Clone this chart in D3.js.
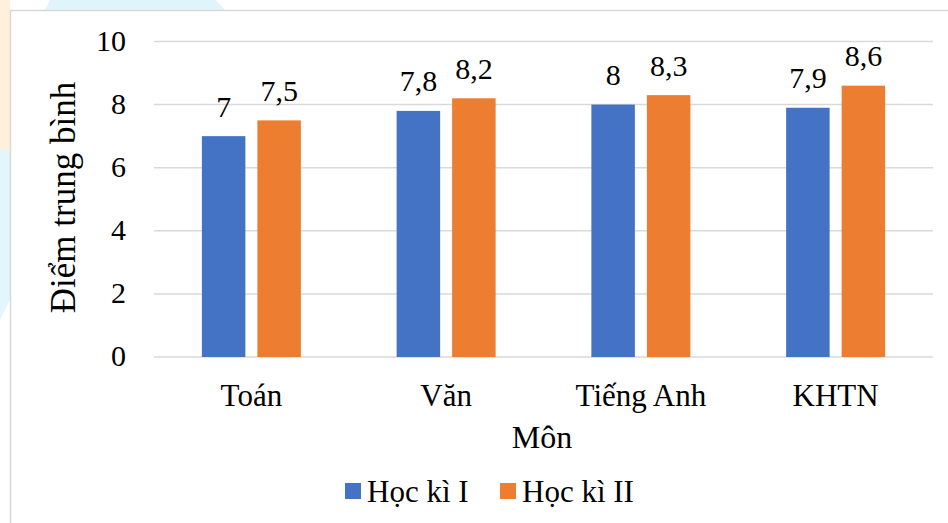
<!DOCTYPE html>
<html>
<head>
<meta charset="utf-8">
<script src="https://cdn.jsdelivr.net/npm/d3@7"></script>
</head>
<body style="margin:0">
<script>
// data
var subjects = ["Toán", "Văn", "Tiếng Anh", "KHTN"];
var seriesNames = ["Học kì I", "Học kì II"];
var hk1 = [7, 7.8, 8, 7.9];
var hk2 = [7.5, 8.2, 8.3, 8.6];
var yTicks = [0, 2, 4, 6, 8, 10];
var colors = ["#4472C4", "#ED7D31"];

var FONT = "'Liberation Serif'";

var W = 948, H = 523;
var margin = {top: 41.5, left: 154};
var width = 933 - margin.left,
    height = 357 - margin.top;

var svg = d3.select("body").append("svg")
    .attr("width", W)
    .attr("height", H)
    .style("font-family", FONT);

// faint watermark bits outside the frame
svg.append("rect").attr("x", 0).attr("y", 0).attr("width", 10).attr("height", 200)
    .attr("fill", "#fdf0dc");
svg.append("path").attr("d", "M50,0 L215,0 L225,10 L45,10 Z").attr("fill", "#dff5fb");
svg.append("path").attr("d", "M0,150 L10,150 L10,300 L0,320 Z").attr("fill", "#e3f6fb");

// chart frame
svg.append("rect")
    .attr("x", 10.5).attr("y", 10.5)
    .attr("width", 960).attr("height", 540)
    .attr("fill", "#fff")
    .attr("stroke", "#d9d9d9")
    .attr("stroke-width", 1.5);

var g = svg.append("g")
    .attr("transform", "translate(" + margin.left + "," + margin.top + ")");

// scales
var x0 = d3.scaleBand().domain(subjects).range([0, width]);
var y = d3.scaleLinear().domain([0, 10]).range([height, 0]);
var barW = 43.5, gap = 12;

// gridlines
g.selectAll(".grid")
    .data(yTicks)
    .enter().append("line")
    .attr("x1", 0).attr("x2", width)
    .attr("y1", function(d) { return y(d); })
    .attr("y2", function(d) { return y(d); })
    .attr("stroke", "#d9d9d9")
    .attr("stroke-width", 1.5);

// y axis labels
g.selectAll(".ytick")
    .data(yTicks)
    .enter().append("text")
    .attr("x", -28)
    .attr("y", function(d) { return y(d); })
    .attr("dy", "0.31em")
    .attr("text-anchor", "end")
    .style("font-family", FONT)
    .attr("font-size", 30)
    .text(function(d) { return d; });

// x axis labels
g.selectAll(".xtick")
    .data(subjects)
    .enter().append("text")
    .attr("x", function(d) { return x0(d) + x0.bandwidth() / 2; })
    .attr("y", height + 48.5)
    .attr("text-anchor", "middle")
    .style("font-family", FONT)
    .attr("font-size", 31)
    .text(function(d) { return d; });

// bars + value labels
var series = [hk1, hk2];
series.forEach(function(vals, si) {
  var off = si === 0 ? -gap / 2 - barW : gap / 2;
  g.selectAll(".bar" + si)
      .data(vals)
      .enter().append("rect")
      .attr("class", "bar" + si)
      .attr("x", function(d, i) { return x0(subjects[i]) + x0.bandwidth() / 2 + off; })
      .attr("y", function(d) { return y(d); })
      .attr("width", barW)
      .attr("height", function(d) { return height - y(d); })
      .attr("fill", colors[si]);

  g.selectAll(".lab" + si)
      .data(vals)
      .enter().append("text")
      .attr("class", "lab" + si)
      .attr("x", function(d, i) { return x0(subjects[i]) + x0.bandwidth() / 2 + off + barW / 2; })
      .attr("y", function(d) { return y(d) - 19.5; })
      .attr("text-anchor", "middle")
      .style("font-family", FONT)
      .attr("font-size", 30)
      .text(function(d) { return String(d).replace(".", ","); });
});

// axis titles
svg.append("text")
    .attr("transform", "translate(75,197.5) rotate(-90)")
    .attr("text-anchor", "middle")
    .style("font-family", FONT)
    .attr("font-size", 35)
    .text("Điểm trung bình");

svg.append("text")
    .attr("x", 542).attr("y", 447.5)
    .attr("text-anchor", "middle")
    .style("font-family", FONT)
    .attr("font-size", 32)
    .text("Môn");

// legend
var legendX = [345, 500];
seriesNames.forEach(function(name, i) {
  svg.append("rect")
      .attr("x", legendX[i]).attr("y", 483)
      .attr("width", 16).attr("height", 16)
      .attr("fill", colors[i]);
  svg.append("text")
      .attr("x", legendX[i] + 22).attr("y", 502)
      .style("font-family", FONT)
      .attr("font-size", 31)
      .text(name);
});
</script>
</body>
</html>
